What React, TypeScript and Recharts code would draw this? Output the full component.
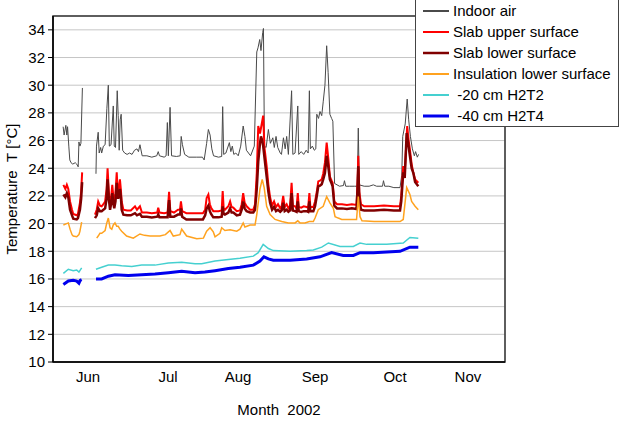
import { LineChart, Line, XAxis, YAxis, CartesianGrid, ReferenceArea } from 'recharts'

// x values are days counted from 1 June 2002; the axis uses equal month steps
const monthStarts = [0, 30.5, 61, 91.5, 122, 152.5, 183]
const monthNames = ['Jun', 'Jul', 'Aug', 'Sep', 'Oct', 'Nov']
const monthLabelDays = [14.2, 46.6, 74.9, 106.1, 138.5, 168.0]
const tempTicks = [10, 12, 14, 16, 18, 20, 22, 24, 26, 28, 30, 32, 34]

type Pt = [number, number | null]

const indoorAir: Pt[] = [
  [4.1, 27.0], [4.5, 26.4], [5.2, 27.1], [5.6, 26.4], [5.9, 27.0], [6.4, 25.6], [6.8, 24.6], [7.3, 24.4],
  [8.0, 24.3], [9.0, 24.4], [9.6, 24.3], [10.2, 24.1], [10.5, 25.9], [10.9, 25.6], [11.3, 25.8], [11.9, 29.8],
  [14, null],
  [17.4, 23.6], [17.6, 25.6], [18.3, 26.6], [18.7, 25.1], [19.3, 25.5], [19.7, 25.1], [20.4, 25.6], [21.1, 25.7],
  [21.8, 28.3], [22.4, 30.0], [22.8, 25.6], [23.5, 25.7], [24.4, 28.5], [24.8, 25.6], [25.3, 25.5], [26.0, 29.6],
  [26.4, 27.8], [26.8, 25.3], [27.2, 27.5], [27.6, 27.9], [28.2, 25.3], [29.0, 25.1], [30.0, 25.0], [31.0, 25.1],
  [32.0, 25.0], [33.0, 25.3], [34.0, 25.4], [34.6, 25.2], [35.2, 25.7], [36.1, 24.9], [38.0, 24.9], [40.0, 24.8],
  [42.0, 24.9], [42.6, 25.2], [43.1, 24.9], [45.0, 24.8], [45.8, 24.9], [46.3, 27.3], [46.7, 24.9], [47.4, 28.4],
  [48.0, 24.9], [50.0, 24.85], [51.5, 24.9], [51.9, 26.3], [52.4, 25.7], [53.3, 25.0], [55.0, 24.8], [58.0, 24.8],
  [60.5, 24.8], [61.2, 24.6], [62.2, 25.8], [62.9, 26.8], [63.6, 26.4], [64.3, 25.4], [65.0, 24.9], [67.0, 24.8],
  [68.3, 24.85], [68.7, 28.45], [69.1, 25.0], [70.0, 25.1], [71.4, 25.85], [72.0, 25.2], [72.6, 25.6], [73.2, 25.0],
  [74.0, 25.1], [75.0, 24.9], [76.0, 25.6], [77.0, 27.05], [77.7, 26.3], [78.3, 25.3], [80.0, 24.9], [81.5, 25.6],
  [82.5, 32.4], [83.0, 32.7], [83.7, 33.3], [84.2, 32.5], [84.9, 33.8], [85.2, 34.1], [85.6, 25.6], [86.3, 25.5],
  [87.2, 26.8], [88.0, 25.8], [89.0, 26.2], [89.6, 25.5], [90.3, 26.3], [91.0, 25.5], [92.0, 25.1], [92.5, 25.0],
  [93.3, 26.2], [94.0, 25.4], [94.6, 26.3], [95.3, 25.0], [96.6, 29.6], [97.1, 25.0], [98.0, 25.1], [99.1, 28.5],
  [99.5, 25.0], [100.5, 25.2], [101.5, 25.0], [102.5, 25.3], [103.3, 25.1], [103.8, 29.6], [104.2, 25.4], [105.0, 25.6],
  [105.8, 25.3], [106.4, 25.4], [106.8, 27.9], [107.5, 27.6], [108.1, 28.1], [108.8, 27.8], [109.4, 28.8], [110.1, 30.0],
  [110.8, 32.85], [111.4, 30.9], [112.1, 27.9], [112.8, 27.6], [113.3, 27.4], [114.0, 22.9], [115.0, 22.8], [116.0, 22.7],
  [117.6, 22.75], [118.0, 23.1], [118.5, 22.7], [120.0, 22.7], [122.0, 22.7], [123.2, 22.7], [123.6, 26.9], [124.0, 22.8],
  [126.0, 22.7], [128.0, 22.7], [129.7, 22.8], [131.0, 22.7], [133.4, 22.7], [133.8, 23.1], [134.3, 22.7], [136.0, 22.7],
  [138.0, 22.6], [140.5, 22.6], [141.2, 23.5], [141.6, 26.3], [142.6, 27.2], [143.4, 29.0], [144.0, 27.5], [144.7, 26.3],
  [145.5, 25.4], [146.3, 24.9], [146.8, 25.2], [147.5, 24.8], [148.0, 25.0],
]

const slabUpper: Pt[] = [
  [4.2, 22.8], [5.0, 22.5], [5.6, 22.8], [6.2, 22.5], [6.9, 21.6], [7.7, 21.0], [8.2, 20.7], [9.6, 20.6],
  [10.1, 20.7], [10.9, 21.5], [11.4, 22.3], [11.8, 23.7],
  [14, null],
  [17.0, 20.65], [17.7, 21.0], [18.3, 21.6], [19.0, 21.3], [19.7, 21.25], [20.4, 21.4], [21.1, 21.6], [21.7, 22.5],
  [22.1, 24.0], [22.6, 22.3], [23.1, 21.4], [23.6, 22.0], [24.0, 22.8], [24.4, 22.0], [24.8, 21.6], [25.3, 22.2],
  [25.8, 23.7], [26.1, 22.6], [26.4, 22.3], [27.1, 23.2], [27.5, 22.4], [27.8, 21.6], [28.5, 21.0], [30.0, 20.95],
  [31.5, 20.95], [33.2, 21.25], [34.0, 21.0], [35.2, 21.25], [36.0, 20.8], [38.0, 20.8], [40.0, 20.75], [42.2, 20.8],
  [42.6, 21.15], [43.1, 20.8], [45.0, 20.75], [46.4, 20.8], [47.0, 22.3], [47.5, 20.9], [49.0, 20.8], [50.6, 21.0],
  [51.4, 21.0], [51.8, 21.6], [52.3, 20.9], [54.0, 20.75], [57.0, 20.75], [60.7, 20.75], [61.6, 21.0], [62.2, 21.85],
  [62.9, 22.1], [63.5, 21.4], [64.0, 21.15], [64.9, 20.9], [67.0, 20.9], [68.3, 20.95], [68.7, 22.35], [69.1, 21.1],
  [69.6, 21.0], [71.0, 21.25], [71.7, 21.6], [72.3, 21.2], [73.0, 21.15], [74.4, 20.9], [75.7, 20.95], [76.4, 21.4],
  [77.0, 22.2], [77.6, 21.5], [78.4, 21.25], [79.8, 21.0], [81.1, 21.0], [81.8, 21.4], [82.5, 23.65], [83.1, 27.05],
  [83.8, 26.5], [84.5, 27.2], [85.1, 27.8], [85.6, 25.5], [86.5, 24.15], [87.2, 22.8], [87.9, 21.9], [88.7, 21.3],
  [89.5, 21.6], [90.3, 21.2], [91.1, 21.4], [92.0, 21.1], [92.6, 21.3], [93.2, 22.0], [93.8, 21.2], [94.6, 21.4],
  [95.3, 21.1], [96.0, 21.3], [96.6, 22.95], [97.1, 21.3], [98.0, 21.25], [98.6, 21.1], [99.1, 22.2], [99.5, 21.2],
  [100.5, 21.15], [101.5, 21.25], [102.7, 21.2], [103.3, 21.15], [103.8, 22.2], [104.2, 21.2], [105.4, 21.2], [106.1, 21.6],
  [106.8, 22.3], [107.4, 23.05], [108.1, 23.1], [108.8, 23.2], [109.4, 23.6], [110.1, 24.4], [110.8, 25.85], [111.5, 24.65],
  [112.1, 23.4], [112.8, 23.1], [113.2, 22.95], [113.9, 21.6], [115.0, 21.4], [117.0, 21.4], [119.0, 21.35], [121.0, 21.4],
  [122.9, 21.35], [123.3, 23.0], [123.6, 24.9], [124.0, 22.3], [124.7, 21.4], [126.0, 21.25], [130.0, 21.25], [134.0, 21.3],
  [138.0, 21.25], [140.5, 21.25], [141.0, 22.0], [141.8, 24.15], [142.4, 23.6], [143.4, 27.05], [144.0, 26.0], [144.5, 25.35],
  [145.2, 24.3], [145.9, 23.65], [146.6, 23.2], [147.9, 22.95],
]

const slabLower: Pt[] = [
  [4.2, 22.1], [5.0, 21.9], [5.6, 22.2], [6.2, 21.9], [6.9, 21.0], [7.7, 20.6], [8.2, 20.35], [9.6, 20.3],
  [10.1, 20.4], [10.9, 21.0], [11.4, 21.8], [11.8, 23.0],
  [14, null],
  [17.0, 20.4], [17.7, 20.6], [18.3, 21.1], [19.0, 20.9], [19.7, 20.9], [20.4, 21.0], [21.1, 21.1], [21.7, 21.8],
  [22.1, 23.2], [22.6, 21.8], [23.1, 21.0], [23.6, 21.5], [24.0, 22.2], [24.4, 21.5], [24.8, 21.1], [25.3, 21.6],
  [25.8, 22.95], [26.1, 22.0], [26.4, 21.8], [27.1, 22.5], [27.5, 21.9], [27.8, 21.0], [28.5, 20.65], [30.0, 20.6],
  [31.5, 20.6], [33.2, 20.75], [34.0, 20.6], [35.2, 20.7], [36.0, 20.5], [38.0, 20.5], [40.0, 20.45], [42.2, 20.5],
  [42.6, 20.65], [43.1, 20.45], [45.0, 20.45], [46.4, 20.45], [47.0, 21.7], [47.5, 20.5], [49.0, 20.5], [50.6, 20.65],
  [51.4, 20.65], [51.8, 21.1], [52.3, 20.5], [54.0, 20.3], [57.0, 20.3], [60.7, 20.3], [61.6, 20.6], [62.2, 21.1],
  [62.9, 21.3], [63.5, 20.9], [64.0, 20.7], [64.9, 20.45], [67.0, 20.45], [68.3, 20.5], [68.7, 21.25], [69.1, 20.7],
  [69.6, 20.65], [71.0, 20.8], [71.7, 21.1], [72.3, 20.8], [73.0, 20.8], [74.4, 20.6], [75.7, 20.65], [76.4, 21.0],
  [77.0, 21.6], [77.6, 21.1], [78.4, 20.9], [79.8, 20.8], [81.1, 20.8], [81.8, 21.0], [82.5, 22.5], [83.1, 24.5],
  [83.8, 25.8], [84.2, 26.3], [84.7, 26.0], [85.1, 25.6], [85.6, 24.8], [86.5, 23.4], [87.2, 22.3], [87.9, 21.5],
  [88.7, 21.0], [89.5, 21.2], [90.3, 20.9], [91.1, 21.0], [92.0, 20.85], [92.6, 20.95], [93.2, 21.5], [93.8, 20.9],
  [94.6, 21.0], [95.3, 20.85], [96.0, 20.95], [96.6, 22.2], [97.1, 20.95], [98.0, 20.9], [98.6, 20.85], [99.1, 21.6],
  [99.5, 20.9], [100.5, 20.85], [101.5, 20.9], [102.7, 20.9], [103.3, 20.85], [103.8, 21.6], [104.2, 20.9], [105.4, 20.9],
  [106.1, 21.25], [106.8, 22.0], [107.4, 22.7], [108.1, 22.75], [108.8, 22.85], [109.4, 23.2], [110.1, 23.65], [110.8, 24.9],
  [111.5, 24.05], [112.1, 23.2], [112.8, 22.9], [113.2, 22.7], [113.9, 21.3], [115.0, 21.1], [117.0, 21.1], [119.0, 21.05],
  [121.0, 21.1], [122.9, 21.05], [123.3, 22.5], [123.6, 24.15], [124.0, 21.8], [124.7, 21.0], [126.0, 20.95], [130.0, 20.95],
  [134.0, 21.0], [138.0, 20.95], [140.5, 20.95], [141.0, 21.6], [141.8, 23.7], [142.4, 23.3], [143.2, 26.55], [143.8, 25.8],
  [144.5, 24.9], [145.2, 24.0], [145.9, 23.65], [146.6, 23.0], [147.9, 22.7],
]

const insulationLower: Pt[] = [
  [4.2, 19.9], [5.5, 20.0], [6.2, 20.05], [6.9, 19.6], [7.7, 19.2], [8.2, 19.1], [9.6, 19.05], [10.5, 19.2],
  [10.9, 19.45], [11.6, 20.1],
  [14, null],
  [17.7, 18.95], [18.3, 19.1], [19.0, 19.3], [19.7, 19.3], [21.1, 19.5], [21.7, 20.0], [22.4, 20.4], [23.1, 19.7],
  [23.8, 19.6], [24.4, 19.9], [25.1, 20.05], [25.8, 19.8], [26.4, 19.8], [27.1, 19.6], [27.8, 19.45], [29.8, 19.1],
  [32.5, 18.95], [35.2, 19.25], [37.0, 19.15], [39.3, 19.1], [43.3, 19.1], [45.5, 19.2], [47.4, 19.5], [48.7, 19.1],
  [51.4, 19.2], [52.1, 19.6], [52.5, 19.5], [54.1, 19.1], [58.2, 18.9], [60.9, 18.95], [62.2, 19.45], [63.6, 19.7],
  [64.9, 19.4], [65.6, 19.05], [67.6, 19.3], [68.3, 19.7], [69.6, 19.5], [71.7, 19.55], [73.0, 19.5], [74.4, 19.45],
  [75.7, 19.6], [77.0, 20.05], [77.7, 19.75], [79.8, 19.9], [81.8, 19.9], [82.5, 20.65], [83.8, 22.5], [84.7, 23.2],
  [85.5, 22.6], [86.5, 21.25], [87.9, 20.65], [89.9, 20.3], [92.6, 20.15], [95.3, 20.05], [98.0, 20.05], [99.1, 20.2],
  [100.0, 20.05], [102.0, 20.05], [103.8, 20.15], [105.4, 20.15], [106.1, 20.4], [107.4, 21.0], [109.4, 21.25], [110.8, 21.95],
  [112.1, 21.5], [113.5, 21.1], [114.2, 20.5], [115.5, 20.4], [116.9, 20.3], [120.0, 20.3], [122.9, 20.3], [123.6, 21.95],
  [124.3, 20.5], [125.1, 20.2], [130.0, 20.15], [135.0, 20.15], [140.5, 20.15], [141.8, 20.3], [143.2, 22.6], [144.5, 22.1],
  [145.2, 21.6], [146.6, 21.25], [147.9, 21.0],
]

const depth20: Pt[] = [
  [4.2, 16.4], [6.2, 16.7], [8.2, 16.6], [9.6, 16.65], [10.5, 16.5], [11.6, 16.8],
  [14, null],
  [17.4, 16.7], [19.7, 16.85], [22.4, 17.0], [25.1, 17.0], [27.8, 16.95], [31.9, 16.9], [35.9, 17.0], [41.3, 17.0],
  [46.7, 17.15], [52.1, 17.2], [57.5, 17.1], [60.2, 17.1], [65.6, 17.3], [71.0, 17.4], [75.7, 17.5], [81.1, 17.65],
  [83.1, 17.9], [85.1, 18.5], [87.2, 18.2], [89.2, 18.05], [96.0, 18.0], [102.7, 18.05], [105.4, 18.1], [108.8, 18.3],
  [111.5, 18.6], [116.2, 18.35], [121.6, 18.35], [124.3, 18.6], [127.0, 18.5], [135.1, 18.5], [141.8, 18.6], [144.5, 19.0],
  [147.9, 18.95],
]

const depth40: Pt[] = [
  [4.2, 15.6], [6.2, 15.85], [8.2, 15.9], [9.6, 15.85], [10.5, 15.7], [11.0, 15.9], [11.6, 15.95],
  [14, null],
  [17.4, 16.0], [19.7, 16.0], [22.4, 16.2], [25.1, 16.3], [30.5, 16.25], [35.9, 16.3], [41.3, 16.35], [46.7, 16.45],
  [52.1, 16.55], [57.5, 16.45], [61.5, 16.5], [65.6, 16.6], [71.0, 16.75], [75.7, 16.85], [81.1, 17.0], [83.8, 17.3],
  [85.4, 17.6], [87.2, 17.45], [89.2, 17.35], [96.0, 17.35], [102.7, 17.45], [108.1, 17.6], [112.8, 17.9], [117.5, 17.7],
  [121.6, 17.7], [124.3, 17.9], [129.7, 17.9], [140.5, 18.0], [144.5, 18.3], [147.9, 18.3],
]

const series = [
  { name: 'Indoor air', points: indoorAir, color: '#4a4a4a', width: 1 },
  { name: 'Slab upper surface', points: slabUpper, color: '#ff0000', width: 2 },
  { name: 'Slab lower surface', points: slabLower, color: '#800000', width: 2.5 },
  { name: 'Insulation lower surface', points: insulationLower, color: '#ffa21f', width: 1.5 },
  { name: '\u00a0-20 cm H2T2', points: depth20, color: '#45d0d0', width: 1.5 },
  { name: '\u00a0-40 cm H2T4', points: depth40, color: '#0000ee', width: 3 },
]

const toRows = (pts: Pt[]) => pts.map(([d, t]) => ({ d, t }))

const font = '"Liberation Sans", Arial, sans-serif'

function LegendBox() {
  return (
    <div
      style={{
        position: 'absolute',
        left: 415,
        top: -1,
        width: 202,
        height: 126,
        border: '1px solid #444',
        background: '#fff',
        fontFamily: font,
        fontSize: 15,
        color: '#000',
      }}
    >
      {series.map((s) => (
        <div key={s.name} style={{ display: 'flex', alignItems: 'center', height: 21, marginLeft: 7 }}>
          <svg width={26} height={6} style={{ marginRight: 4 }}>
            <line x1={0} x2={26} y1={3} y2={3} stroke={s.color} strokeWidth={Math.max(2, s.width)} />
          </svg>
          <span>{s.name}</span>
        </div>
      ))}
    </div>
  )
}

export default function App() {
  return (
    <div style={{ position: 'fixed', left: 0, top: 0, width: 622, height: 424, background: '#fff', fontFamily: font }}>
      <LineChart width={622} height={424} margin={{ top: 16, right: 117, bottom: 0, left: 0 }}>
        <CartesianGrid stroke="#c6c6c6" strokeWidth={1} />
        <XAxis
          dataKey="d"
          type="number"
          domain={[0, 183]}
          ticks={monthStarts}
          tick={false}
          height={5}
          tickSize={5}
          axisLine={{ stroke: '#000', strokeWidth: 1.5 }}
          tickLine={{ stroke: '#000' }}
          allowDataOverflow
        />
        <XAxis
          xAxisId="mid"
          dataKey="d"
          type="number"
          domain={[0, 183]}
          ticks={monthLabelDays}
          tickFormatter={(v: number) => monthNames[monthLabelDays.indexOf(v)]}
          height={57}
          tickSize={0}
          tickMargin={4}
          axisLine={false}
          tickLine={false}
          tick={{ fill: '#000', fontSize: 15 }}
          label={{ value: 'Month\u00a0\u00a02002', position: 'insideBottom', offset: 9, fill: '#000', fontSize: 15 }}
          allowDataOverflow
        />
        <YAxis
          type="number"
          domain={[10, 35]}
          ticks={tempTicks}
          width={53}
          tickSize={5}
          tickMargin={3}
          axisLine={{ stroke: '#000', strokeWidth: 1.5 }}
          tickLine={{ stroke: '#000' }}
          tick={{ fill: '#000', fontSize: 15 }}
          label={{
            value: 'Temperature\u00a0\u00a0T\u00a0[°C]',
            angle: -90,
            position: 'insideLeft',
            offset: 12,
            fill: '#000',
            fontSize: 15,
            style: { textAnchor: 'middle' },
          }}
          allowDataOverflow
        />
        <ReferenceArea x1={0} x2={183} y1={10} y2={35} fill="none" stroke="#333" strokeWidth={1.5} />
        {series.map((s) => (
          <Line
            key={s.name}
            data={toRows(s.points)}
            dataKey="t"
            name={s.name}
            type="linear"
            stroke={s.color}
            strokeWidth={s.width}
            dot={false}
            activeDot={false}
            connectNulls={false}
            isAnimationActive={false}
          />
        ))}
      </LineChart>
      <LegendBox />
    </div>
  )
}
